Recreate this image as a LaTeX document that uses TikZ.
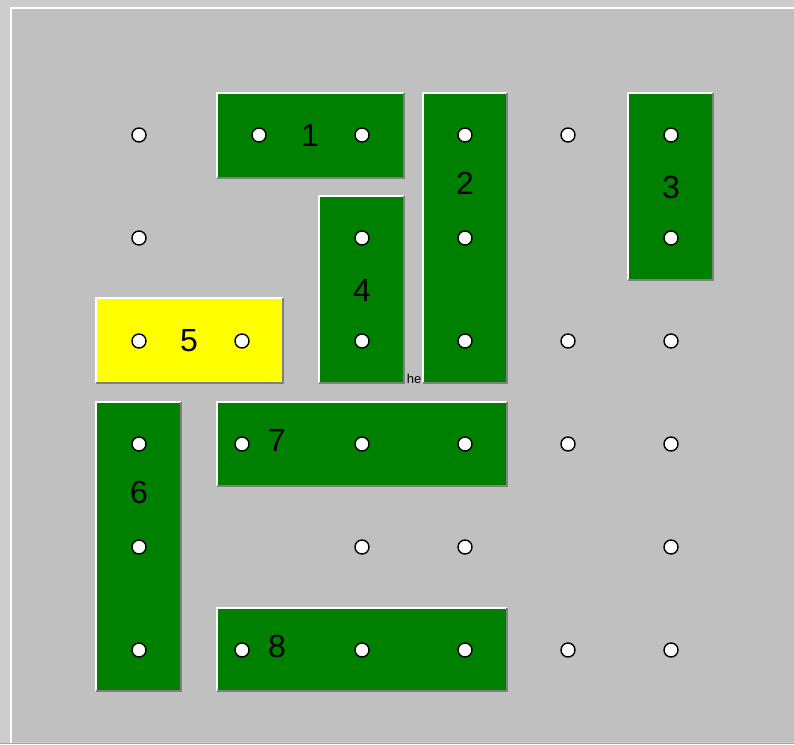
\documentclass[tikz,border=0pt]{standalone}
\usepackage{fontspec}
\setmainfont{Liberation Sans}
\definecolor{boardgray}{RGB}{192,192,192}
\definecolor{framegray}{RGB}{205,205,205}
\definecolor{piecegreen}{RGB}{0,128,0}
\definecolor{pieceyellow}{RGB}{255,255,0}
\definecolor{shadegray}{RGB}{128,128,128}
\tikzset{
  piece/.style={rectangle, fill=piecegreen, draw=none, inner sep=0pt},
  hole/.style={circle, fill=white, draw=black, line width=1.4pt, minimum size=14pt, inner sep=0pt},
  num/.style={font=\fontsize{32}{32}\selectfont, inner sep=0pt}
}
\begin{document}
\begin{tikzpicture}[x=1pt,y=-1pt]
  \useasboundingbox (0,0) rectangle (794,744);
  % Fond
  \fill[framegray] (0,0) rectangle (794,744);
  \fill[boardgray] (11,8) rectangle (794,742);
  \draw[white, line width=2pt] (11,744) -- (11,8) -- (794,8);
  \draw[shadegray!70, line width=1pt] (0,743.5) -- (794,743.5);
  % Texte cache
  \node[font=\fontsize{13}{13}\selectfont, inner sep=0pt, anchor=base] (hidden) at (414,383) {he};
  % Pieces
  \foreach \n/\x/\y/\w/\h in {1/310.5/135.5/187/85, 2/465/238/84/290, 3/670.5/186.5/85/187,
      4/361.5/289.5/85/187, 5/189.5/340.5/187/85, 6/138.5/546.5/85/289,
      7/362/444/290/84, 8/362/649.5/290/83}
    \node[piece, minimum width=\w pt, minimum height=\h pt] (p\n) at (\x,\y) {};
  \node[piece, fill=pieceyellow, minimum width=187pt, minimum height=85pt] at (p5) {};
  % Reliefs
  \foreach \n in {1,...,8}{
    \draw[white, line width=1.5pt] (p\n.south west) -- (p\n.north west) -- (p\n.north east);
    \draw[shadegray, line width=1.5pt] (p\n.north east) -- (p\n.south east) -- (p\n.south west);
  }
  % Trous
  \foreach \x/\y [count=\i] in {139/135, 259/135, 362/135, 465/135, 568/135, 671/135,
      139/238, 362/238, 465/238, 671/238,
      139/341, 242/341, 362/341, 465/341, 568/341, 671/341,
      139/444, 242/444, 362/444, 465/444, 568/444, 671/444,
      139/547, 362/547, 465/547, 671/547,
      139/650, 242/650, 362/650, 465/650, 568/650, 671/650}
    \node[hole] (d\i) at (\x,\y) {};
  % Numeros
  \foreach \n/\x/\y in {1/310/135, 2/465/183, 3/671/187, 4/362/290,
      5/189/341, 6/139/492, 7/277/440, 8/277/646}
    \node[num] (n\n) at (\x,\y) {\n};
\end{tikzpicture}
\end{document}
